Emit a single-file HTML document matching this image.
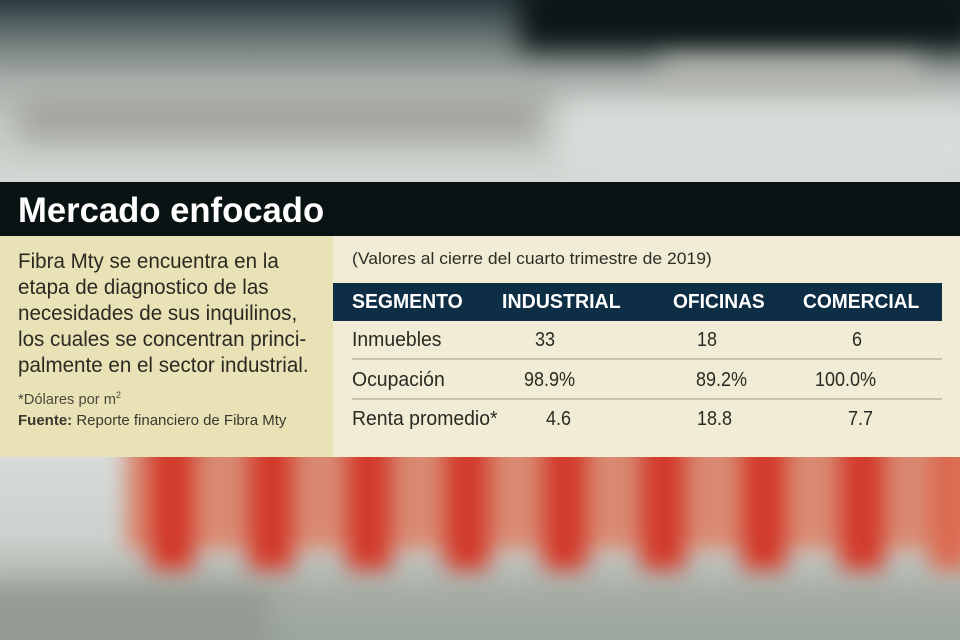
<!DOCTYPE html>
<html><head><meta charset="utf-8"><style>
*{margin:0;padding:0;box-sizing:border-box}
html,body{width:960px;height:640px;overflow:hidden}
body{position:relative;background:#c8ccc8;font-family:"Liberation Sans",sans-serif}
.a{position:absolute;white-space:nowrap;transform-origin:0 50%}
.bl{position:absolute;filter:blur(14px)}
</style></head><body>
<div class="a" style="left:0;top:0;width:960px;height:182px;background:linear-gradient(#2e3b40 0,#6d7977 40px,#a9aeaa 80px,#c2c6c1 120px,#d3d8d4 182px)"></div>
<div class="bl" style="left:520px;top:-20px;width:460px;height:70px;background:#0b1616"></div>
<div class="bl" style="left:20px;top:95px;width:520px;height:45px;background:#a3a59f"></div>
<div class="bl" style="left:660px;top:60px;width:260px;height:35px;background:#b4b5ae"></div>
<div class="bl" style="left:560px;top:100px;width:420px;height:80px;background:#d8ddd9"></div>
<div class="a" style="left:0;top:457px;width:960px;height:183px;background:linear-gradient(#d7dbd8 0,#ccd1cd 80px,#a5aca4 140px,#9ca79f 183px)"></div>
<div class="bl" style="left:-30px;top:590px;width:300px;height:80px;background:#939a92"></div>
<div class="bl" style="left:125px;top:430px;width:870px;height:120px;background:#d98a72;filter:blur(10px)"></div>
<div class="bl" style="left:150px;top:430px;width:44px;height:140px;background:#d23a2a;filter:blur(11px)"></div>
<div class="bl" style="left:249px;top:430px;width:44px;height:140px;background:#d23a2a;filter:blur(11px)"></div>
<div class="bl" style="left:347px;top:430px;width:44px;height:140px;background:#d23a2a;filter:blur(11px)"></div>
<div class="bl" style="left:445px;top:430px;width:44px;height:140px;background:#d23a2a;filter:blur(11px)"></div>
<div class="bl" style="left:543px;top:430px;width:44px;height:140px;background:#d23a2a;filter:blur(11px)"></div>
<div class="bl" style="left:641px;top:430px;width:44px;height:140px;background:#d23a2a;filter:blur(11px)"></div>
<div class="bl" style="left:742px;top:430px;width:44px;height:140px;background:#d23a2a;filter:blur(11px)"></div>
<div class="bl" style="left:840px;top:430px;width:44px;height:140px;background:#d23a2a;filter:blur(11px)"></div>
<div class="bl" style="left:930px;top:430px;width:40px;height:140px;background:#db6a50;filter:blur(11px)"></div>

<div class="a" style="left:0;top:182px;width:960px;height:54px;background:#091313"></div>
<div class="a" style="left:0;top:236px;width:333px;height:221px;background:#e8e2b6"></div>
<div class="a" style="left:333px;top:236px;width:627px;height:221px;background:#f1ecd5"></div>
<div class="a" style="left:333px;top:283px;width:609px;height:38px;background:#0e2e45"></div>
<div class="a" style="left:352px;top:358px;width:590px;height:2px;background:#c9c3ae"></div>
<div class="a" style="left:352px;top:398px;width:590px;height:2px;background:#c9c3ae"></div>

<div class="a" style="left:18px;top:191px;font-size:35px;font-weight:bold;color:#fff;transform:scaleX(.99)">Mercado enfocado</div>

<div class="a" style="left:18px;top:249px;font-size:21px;line-height:26px;color:#2b2a22;transform:scaleX(.98);transform-origin:0 0">Fibra Mty se encuentra en la<br>etapa de diagnostico de las<br>necesidades de sus inquilinos,<br>los cuales se concentran princi-<br>palmente en el sector industrial.</div>
<div class="a" style="left:18px;top:390px;font-size:15px;color:#4a483c;transform:scaleX(.98)">*Dólares por m<sup style="font-size:9px">2</sup></div>
<div class="a" style="left:18px;top:412px;font-size:15px;color:#3a382e;transform:scaleX(1.0)"><b>Fuente:</b> Reporte financiero de Fibra Mty</div>

<div class="a" style="left:352px;top:249px;font-size:17px;color:#2e2d25;transform:scaleX(1.03)">(Valores al cierre del cuarto trimestre de 2019)</div>

<div class="a" style="left:352px;top:291px;font-size:20px;font-weight:bold;color:#fff;transform:scaleX(.97)">SEGMENTO</div>
<div class="a" style="left:502px;top:291px;font-size:20px;font-weight:bold;color:#fff;transform:scaleX(.98)">INDUSTRIAL</div>
<div class="a" style="left:673px;top:291px;font-size:20px;font-weight:bold;color:#fff;transform:scaleX(.96)">OFICINAS</div>
<div class="a" style="left:803px;top:291px;font-size:20px;font-weight:bold;color:#fff;transform:scaleX(.96)">COMERCIAL</div>

<div style="font-size:20px;color:#2b2a22">
<div class="a" style="left:352px;top:329px;transform:scaleX(.97)">Inmuebles</div>
<div class="a" style="left:535px;top:329px;transform:scaleX(.9)">33</div>
<div class="a" style="left:697px;top:329px;transform:scaleX(.9)">18</div>
<div class="a" style="left:852px;top:329px;transform:scaleX(.9)">6</div>
<div class="a" style="left:352px;top:369px;transform:scaleX(.97)">Ocupación</div>
<div class="a" style="left:524px;top:369px;transform:scaleX(.9)">98.9%</div>
<div class="a" style="left:696px;top:369px;transform:scaleX(.9)">89.2%</div>
<div class="a" style="left:815px;top:369px;transform:scaleX(.9)">100.0%</div>
<div class="a" style="left:352px;top:408px;transform:scaleX(.97)">Renta promedio*</div>
<div class="a" style="left:546px;top:408px;transform:scaleX(.9)">4.6</div>
<div class="a" style="left:697px;top:408px;transform:scaleX(.9)">18.8</div>
<div class="a" style="left:848px;top:408px;transform:scaleX(.9)">7.7</div>
</div>
</body></html>
